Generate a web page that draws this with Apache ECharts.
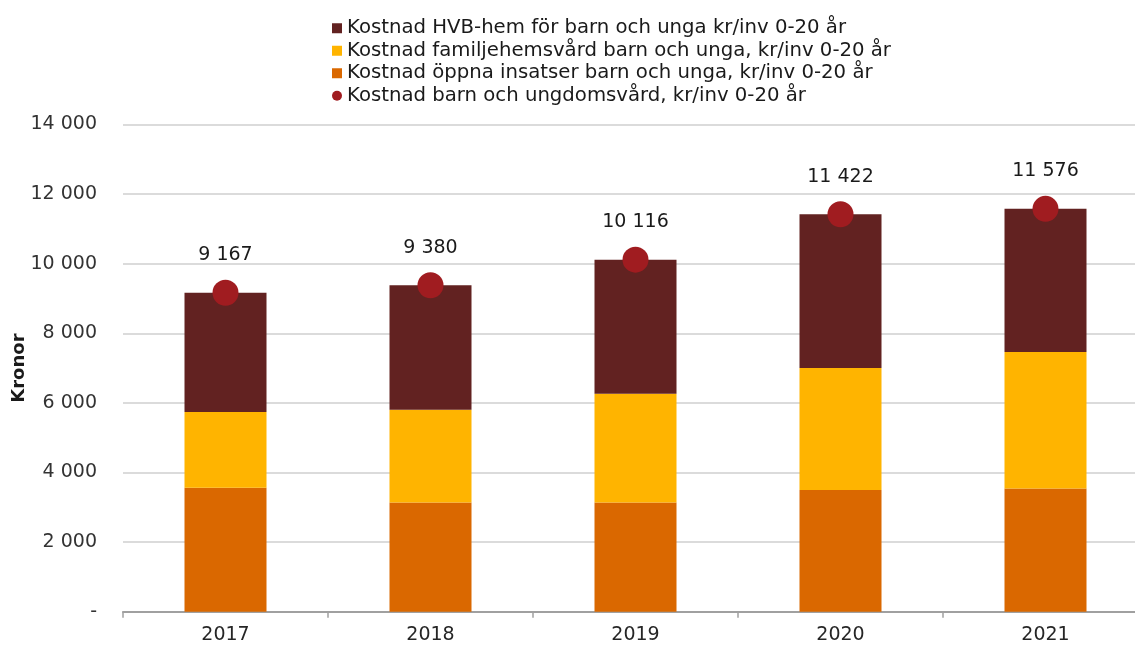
<!DOCTYPE html>
<html>
<head>
<meta charset="utf-8">
<script src="https://cdn.jsdelivr.net/npm/echarts@6/dist/echarts.min.js"></script>
<style>
html,body{margin:0;padding:0;background:#fff;}
#chart{width:1135px;height:645px;}
</style>
</head>
<body>
<div id="chart"></div>
<script>
const years = ['2017', '2018', '2019', '2020', '2021'];
const oppnaInsatser = [3560, 3140, 3140, 3495, 3540];
const familjehem = [2175, 2665, 3120, 3510, 3925];
const hvbHem = [3432, 3575, 3856, 4417, 4111];
const totalKostnad = [9167, 9380, 10116, 11422, 11576];
const yTicks = [0, 2000, 4000, 6000, 8000, 10000, 12000, 14000];

const names = {
  hvb: 'Kostnad HVB-hem för barn och unga kr/inv 0-20 år',
  fam: 'Kostnad familjehemsvård barn och unga, kr/inv 0-20 år',
  opp: 'Kostnad öppna insatser barn och unga, kr/inv 0-20 år',
  tot: 'Kostnad barn och ungdomsvård, kr/inv 0-20 år'
};

function fmt(v) {
  return String(v).replace(/\B(?=(\d{3})+(?!\d))/g, ' ');
}

const FONT = 'DejaVu Sans';
const chart = echarts.init(document.getElementById('chart'));
chart.setOption({
  animation: false,
  backgroundColor: '#ffffff',
  textStyle: { fontFamily: FONT },
  legend: {
    orient: 'vertical',
    left: 327,
    top: 12,
    itemWidth: 10,
    itemHeight: 10,
    itemGap: 0,
    textStyle: { fontFamily: FONT, fontSize: 19.7, color: '#1a1a1a', lineHeight: 22.5 },
    data: [
      { name: names.hvb, icon: 'rect' },
      { name: names.fam, icon: 'rect' },
      { name: names.opp, icon: 'rect' },
      { name: names.tot, icon: 'circle' }
    ]
  },
  grid: { left: 123, right: -13, top: 124.5, bottom: 33.3, containLabel: false, outerBoundsMode: 'none' },
  xAxis: {
    type: 'category',
    data: years,
    axisLine: { lineStyle: { color: '#a0a0a0', width: 2 } },
    axisTick: { show: true, length: 6, lineStyle: { color: '#a0a0a0', width: 1.5 } },
    axisLabel: { fontFamily: FONT, fontSize: 19, color: '#262626', margin: 14 }
  },
  yAxis: {
    type: 'value',
    min: 0,
    max: 14000,
    interval: 2000,
    name: 'Kronor',
    nameLocation: 'middle',
    nameGap: 95,
    nameMoveOverlap: false,
    nameTextStyle: { fontFamily: FONT, fontSize: 18, fontWeight: 'bold', color: '#1a1a1a' },
    axisLine: { show: false },
    axisTick: { show: false },
    axisLabel: {
      fontFamily: FONT, fontSize: 19, color: '#333333', margin: 26,
      formatter: function (v) { return yTicks.indexOf(v) >= 0 ? (v === 0 ? '-' : fmt(v)) : ''; }
    },
    splitLine: { lineStyle: { color: '#cfcfcf', width: 1.5 } }
  },
  series: [
    {
      name: names.opp, type: 'bar', stack: 'k', barWidth: 82,
      itemStyle: { color: '#da6800' }, data: oppnaInsatser
    },
    {
      name: names.fam, type: 'bar', stack: 'k', barWidth: 82,
      itemStyle: { color: '#ffb400' }, data: familjehem
    },
    {
      name: names.hvb, type: 'bar', stack: 'k', barWidth: 82,
      itemStyle: { color: '#622221' }, data: hvbHem
    },
    {
      name: names.tot, type: 'scatter', symbol: 'circle', symbolSize: 26, z: 10,
      itemStyle: { color: '#a01c20', opacity: 1 },
      label: {
        show: true, position: 'top', distance: 15,
        fontFamily: FONT, fontSize: 19, color: '#1a1a1a',
        formatter: function (p) { return fmt(p.value); }
      },
      data: totalKostnad
    }
  ]
});
</script>
</body>
</html>
